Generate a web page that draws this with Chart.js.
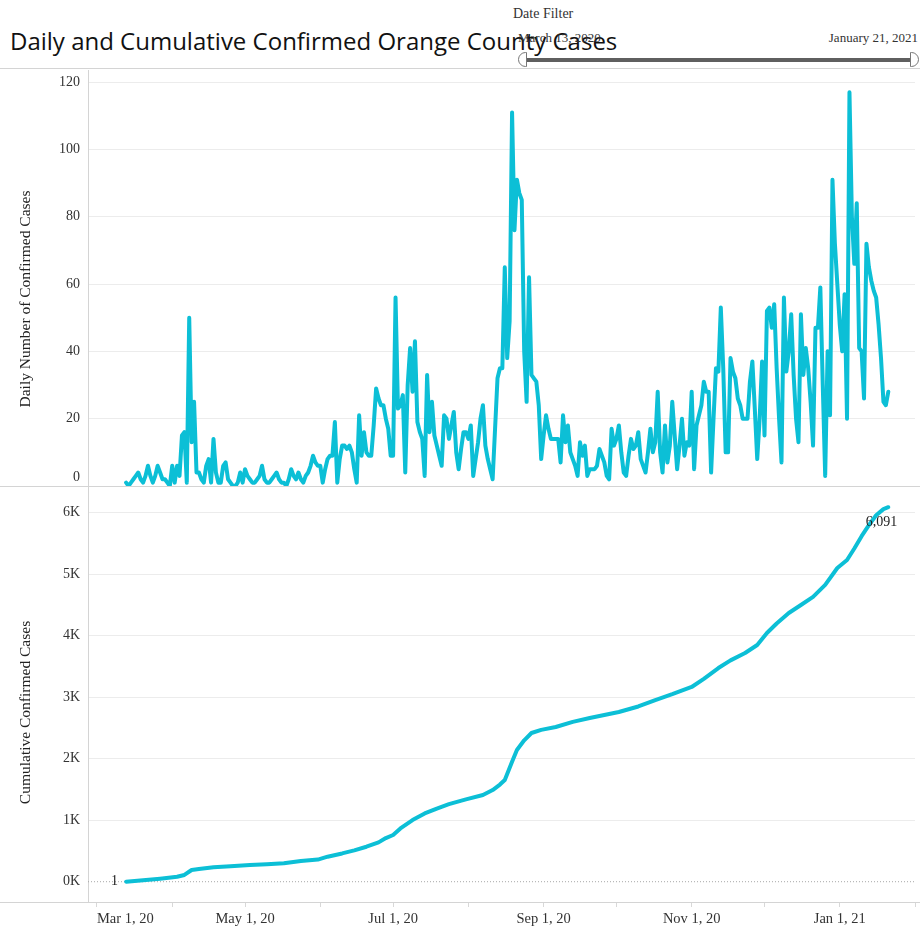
<!DOCTYPE html>
<html>
<head>
<meta charset="utf-8">
<script src="https://cdn.jsdelivr.net/npm/chart.js@4.4.1/dist/chart.umd.min.js"></script>
<style>
  body { margin: 0; background: #fff; width: 920px; height: 930px; position: relative; overflow: hidden; font-family: "Liberation Serif", serif; }
  .abs { position: absolute; }
  #title { left: 10px; top: 27px; font-family: "Open Sans", sans-serif; font-size: 24px; color: #111; white-space: nowrap; line-height: 1.2; }
  .small { font-size: 13px; color: #333; white-space: nowrap; line-height: 1; }
  .hline { left: 0; width: 920px; height: 1px; background: #d4d4d4; }
  #track { left: 526px; top: 58px; width: 388px; height: 4px; background: #5f5f5f; }
  .handle { top: 52px; width: 9px; height: 15px; background: #fff; border: 1px solid #777; box-sizing: border-box; }
  #hl { left: 518px; border-radius: 8px 0 0 8px; }
  #hr { left: 910px; border-radius: 0 8px 8px 0; }
</style>
</head>
<body>
<div id="title" class="abs">Daily and Cumulative Confirmed Orange County Cases</div>
<div class="abs small" style="left:513px;top:7px;font-size:14px;">Date Filter</div>
<div class="abs small" style="left:518px;top:31px;">March 13, 2020</div>
<div class="abs small" style="right:2px;top:31px;">January 21, 2021</div>
<div id="track" class="abs"></div>
<div id="hl" class="abs handle"></div>
<div id="hr" class="abs handle"></div>
<div class="abs hline" style="top:68px;"></div>
<div class="abs hline" style="top:486px;"></div>
<div class="abs hline" style="top:902px;"></div>
<canvas id="daily" class="abs" style="left:0;top:68px;" width="920" height="424"></canvas>
<canvas id="cumul" class="abs" style="left:0;top:486px;" width="920" height="444"></canvas>
<script>
// daily confirmed cases, one value per day starting Mar 13, 2020
const firstDay = '2020-03-13';
const casesMar = [1,0,1,2,3,4,2,1,3,6,3,1,3,6,4,2,2,1,0];
const casesApr = [6,1,6,3,15,16,1,50,13,25,4,4,2,1,6,8,1,14,4,1,1,6,7,2,1,0,0,1,4,1];
const casesMay = [5,3,2,1,1,2,3,6,2,1,1,2,3,4,2,1,1,0,2,5,3,2,4,2,1,3,4,6,9,7,6];
const casesJun = [6,1,5,8,9,9,19,1,8,12,12,11,12,10,5,1,21,9,16,10,9,9,18,29,26,24,24,20,17,9];
const casesJul = [9,56,23,24,27,4,30,41,28,43,19,16,14,3,33,16,25,15,12,9,6,21,20,14,18,22,10,5,11,16,16];
const casesAug = [14,18,3,8,13,20,24,12,8,5,2,17,32,35,35,65,38,49,111,76,91,87,85,40,25,62,33,32,31,24,8];
const casesSep = [15,21,17,14,14,14,14,7,21,13,18,10,8,6,3,13,9,12,3,5,5,5,6,11,9,7,3,2,17,12];
const casesOct = [14,18,10,4,3,9,14,11,12,16,8,6,4,10,17,10,13,28,10,4,18,7,12,25,15,5,12,20,9,13,12];
const casesNov = [28,5,18,21,24,31,28,28,4,20,35,34,53,35,10,10,38,34,32,26,24,20,20,20,31,37,23,8,20,37];
const casesDec = [15,52,53,47,54,35,20,7,56,34,40,51,33,20,13,51,33,41,35,25,12,47,47,59,30,3,40,21,91,72,60];
const casesJan = [48,40,57,20,117,80,66,84,41,40,26,72,65,61,58,56,48,38,25,24,28];

// cumulative confirmed cases
const cumDates = ['2020-03-13','2020-03-20','2020-03-27','2020-04-03','2020-04-06','2020-04-09','2020-04-12',
  '2020-04-18','2020-04-25','2020-05-03','2020-05-10','2020-05-17','2020-05-24','2020-05-31','2020-06-04',
  '2020-06-10','2020-06-15','2020-06-20','2020-06-25','2020-06-28','2020-07-01','2020-07-04','2020-07-09',
  '2020-07-14','2020-07-19','2020-07-24','2020-07-31','2020-08-07','2020-08-11','2020-08-14','2020-08-16',
  '2020-08-19','2020-08-21','2020-08-24','2020-08-27','2020-08-31','2020-09-06','2020-09-13','2020-09-20',
  '2020-09-27','2020-10-02','2020-10-10','2020-10-17','2020-10-24','2020-11-01','2020-11-06','2020-11-12',
  '2020-11-17','2020-11-23','2020-11-28','2020-12-02','2020-12-06','2020-12-11','2020-12-16','2020-12-21',
  '2020-12-26','2020-12-31','2021-01-04','2021-01-07','2021-01-10','2021-01-13','2021-01-16','2021-01-19','2021-01-21'];
const cumValues = [1,25,50,80,110,190,205,234,252,271,285,300,337,360,407,460,510,569,640,710,760,866,1003,
  1110,1190,1263,1340,1410,1491,1580,1654,1950,2142,2300,2419,2470,2517,2600,2662,2720,2760,2850,2955,3050,
  3167,3300,3475,3600,3720,3850,4046,4200,4371,4500,4632,4827,5103,5233,5420,5620,5800,5960,6060,6091];

// axis ticks
const monthTickDates = ['2020-03-01','2020-04-01','2020-05-01','2020-06-01','2020-07-01','2020-08-01',
  '2020-09-01','2020-10-01','2020-11-01','2020-12-01','2021-01-01','2021-02-01'];
const monthTickLabels = ['Mar 1, 20','','May 1, 20','','Jul 1, 20','','Sep 1, 20','','Nov 1, 20','','Jan 1, 21',''];
const dailyTicks = [0,20,40,60,80,100,120];
const cumTicks = [0,1000,2000,3000,4000,5000,6000];

const lineColor = '#0cbfd6';
const tickFont = { family: 'Liberation Serif', size: 14 };

// day number counted from Mar 1, 2020
const dayNum = s => Math.round((Date.parse(s) - Date.parse('2020-03-01')) / 864e5);
const xMin = -3.7, xMax = 337;

const dailyCases = [].concat(casesMar, casesApr, casesMay, casesJun, casesJul, casesAug,
  casesSep, casesOct, casesNov, casesDec, casesJan);
const start = dayNum(firstDay);
const dailyPoints = dailyCases.map((v, i) => ({ x: start + i, y: v }));
const cumPoints = cumValues.map((v, i) => ({ x: dayNum(cumDates[i]), y: v }));

// rotated axis title, a bit below the middle of the pane like the original
const sideTitle = {
  id: 'sideTitle',
  afterDraw(chart, args, opts) {
    const { ctx, chartArea } = chart;
    ctx.save();
    ctx.translate(26, (chartArea.top + chartArea.bottom) / 2 + opts.shift);
    ctx.rotate(-Math.PI / 2);
    ctx.font = '15.5px "Liberation Serif"';
    ctx.fillStyle = '#222';
    ctx.textAlign = 'center';
    ctx.textBaseline = 'middle';
    ctx.fillText(opts.text, 0, 0);
    ctx.restore();
  }
};

// the bottom "0" of the daily pane sits a little above its gridline, inside the pane
const zeroLabel = {
  id: 'zeroLabel',
  afterDraw(chart) {
    const y = chart.scales.y;
    const ctx = chart.ctx;
    ctx.save();
    ctx.font = '14px "Liberation Serif"';
    ctx.fillStyle = '#333';
    ctx.textAlign = 'right';
    ctx.textBaseline = 'middle';
    ctx.fillText(String(dailyTicks[0]), y.right - 8, y.getPixelForValue(dailyTicks[0]) - 9);
    ctx.restore();
  }
};

const yAxisBase = ticks => ({
  afterFit: s => { s.width = 88; s.paddingTop = 0; s.paddingBottom = 0; },
  afterBuildTicks: s => { s.ticks = ticks.map(v => ({ value: v })); },
  grid: { color: c => c.tick && c.tick.value === 0 ? 'rgba(0,0,0,0)' : '#ececec', drawTicks: false },
  border: { color: '#d4d4d4' },
  ticks: { padding: 8, color: '#333', font: tickFont }
});

Chart.defaults.font.family = 'Liberation Serif';

const dailyY = Object.assign({ min: 0, max: 123.6 }, yAxisBase(dailyTicks));
dailyY.ticks = Object.assign({}, dailyY.ticks, { callback: v => (v === 0 ? '' : String(v)) });

new Chart(document.getElementById('daily'), {
  type: 'line',
  data: { datasets: [{ data: dailyPoints, borderColor: lineColor, borderWidth: 4, pointRadius: 0,
    tension: 0, borderJoinStyle: 'round', borderCapStyle: 'round' }] },
  options: {
    responsive: false, animation: false,
    layout: { padding: { top: 2, bottom: 6, left: 0, right: 5 } },
    plugins: { legend: { display: false }, tooltip: { enabled: false },
      sideTitle: { text: 'Daily Number of Confirmed Cases', shift: 21 } },
    scales: {
      x: { type: 'linear', display: false, min: xMin, max: xMax },
      y: dailyY
    }
  },
  plugins: [sideTitle, zeroLabel]
});

const endLabels = {
  id: 'endLabels',
  afterDatasetsDraw(chart) {
    const pts = chart.getDatasetMeta(0).data;
    const first = pts[0], last = pts[pts.length - 1];
    const ctx = chart.ctx;
    ctx.save();
    ctx.font = '14px "Liberation Serif"';
    ctx.fillStyle = '#222';
    ctx.textBaseline = 'middle';
    ctx.textAlign = 'right';
    ctx.fillText(cumValues[0].toLocaleString('en-US'), first.x - 8, first.y);
    ctx.fillText(cumValues[cumValues.length - 1].toLocaleString('en-US'), last.x + 9, last.y + 15);
    ctx.restore();
  }
};

const cumY = Object.assign({ min: -330, max: 6420 }, yAxisBase(cumTicks));
cumY.ticks = Object.assign({}, cumY.ticks, { callback: v => (v / 1000) + 'K' });

new Chart(document.getElementById('cumul'), {
  type: 'line',
  data: { datasets: [
    { data: cumPoints, borderColor: lineColor, borderWidth: 4, pointRadius: 0, tension: 0,
      borderJoinStyle: 'round', borderCapStyle: 'round', order: 1 },
    { data: [{ x: xMin, y: 0 }, { x: xMax, y: 0 }], borderColor: '#a8a8a8', borderWidth: 1,
      borderDash: [1, 2], pointRadius: 0, order: 2 }
  ] },
  options: {
    responsive: false, animation: false,
    layout: { padding: { top: 1, bottom: 0, left: 0, right: 5 } },
    plugins: { legend: { display: false }, tooltip: { enabled: false },
      sideTitle: { text: 'Cumulative Confirmed Cases', shift: 18 } },
    scales: {
      x: {
        type: 'linear', min: xMin, max: xMax,
        afterFit: s => { s.height = 28; },
        afterBuildTicks: s => { s.ticks = monthTickDates.map(d => ({ value: dayNum(d) })); },
        grid: { drawOnChartArea: false, drawTicks: true, tickLength: 5, tickColor: '#d8d8d8' },
        border: { color: '#d4d4d4' },
        ticks: { autoSkip: false, maxRotation: 0, padding: 3, align: 'inner', color: '#333',
          font: { family: 'Liberation Serif', size: 14.5 }, callback: (v, i) => monthTickLabels[i] }
      },
      y: cumY
    }
  },
  plugins: [endLabels, sideTitle]
});
</script>
</body>
</html>
